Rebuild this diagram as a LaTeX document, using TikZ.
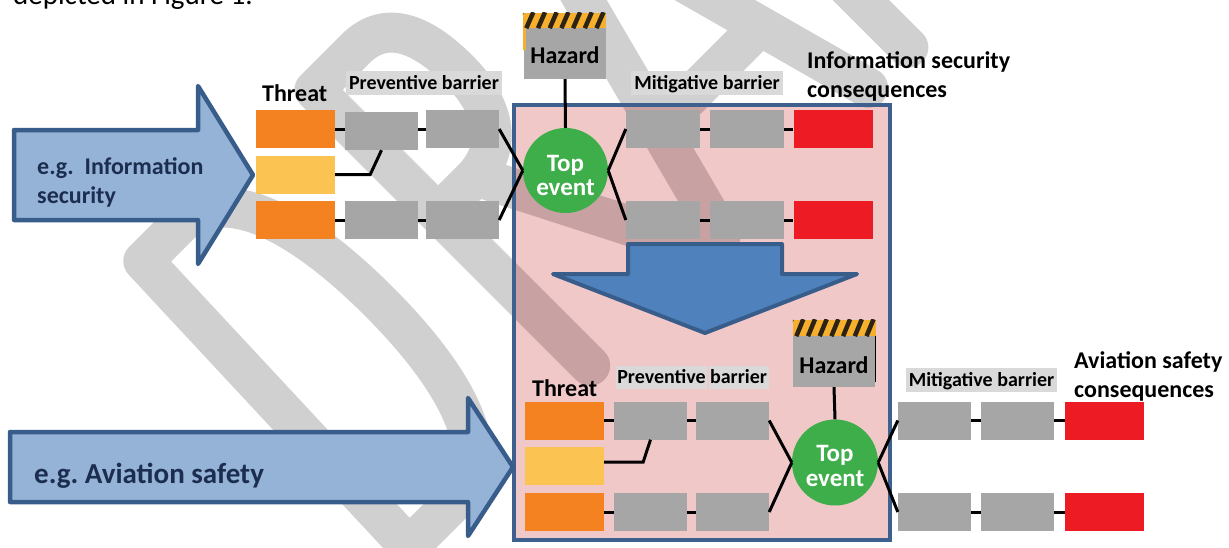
\documentclass[tikz,border=0pt]{standalone}
\usepackage{fontspec}
\setmainfont{Carlito}
\usetikzlibrary{calc}

\definecolor{arrowfill}{RGB}{149,179,215}
\definecolor{arrowline}{RGB}{56,93,138}
\definecolor{arrowtext}{RGB}{28,46,80}
\definecolor{downfill}{RGB}{79,129,189}
\definecolor{pinkfill}{RGB}{241,200,200}
\definecolor{boxline}{RGB}{61,96,142}
\definecolor{threatorange}{RGB}{245,130,32}
\definecolor{threatyellow}{RGB}{251,195,82}
\definecolor{barriergray}{RGB}{166,166,166}
\definecolor{conred}{RGB}{237,28,36}
\definecolor{eventgreen}{RGB}{61,174,73}
\definecolor{labelgray}{RGB}{217,217,217}
\definecolor{wmgray}{RGB}{208,208,208}
\definecolor{wmpink}{RGB}{200,162,162}
\definecolor{hazardyellow}{RGB}{247,176,45}
\definecolor{hazardstripe}{RGB}{45,35,20}

% strokes of the diagonal DRAFT watermark, in letter coordinates
\newcommand\draftletters[1]{%
  \begin{scope}[shift={(115,261)}, x={(0.7071pt,0.7071pt)}, y={(-0.7071pt,0.7071pt)}]
    \draw[#1, line width=40pt, line cap=round, line join=round]
      (6,-410) -- (20,-20) -- (70,-20) .. controls (135,-20) and (158,-110) .. (158,-215)
        .. controls (158,-320) and (135,-410) .. (70,-410) -- cycle
      (262,-410) -- (262,-20) -- (320,-20) .. controls (365,-20) and (378,-60) .. (378,-108)
        .. controls (378,-160) and (355,-195) .. (310,-195) -- (262,-195)
      (315,-195) -- (425,-410)
      (447,-410) -- (549,-20) -- (655,-410)
      (478,-290) -- (622,-290)
      (712,-410) -- (712,-20) -- (850,-20)
      (712,-215) -- (830,-215)
      (880,-20) -- (1040,-20)
      (960,-20) -- (960,-410);
  \end{scope}}

\begin{document}
\begin{tikzpicture}[x=1pt, y=-1pt,
  thr/.style={inner sep=0pt, minimum width=79, minimum height=38},
  bar/.style={inner sep=0pt, fill=barriergray, minimum width=73, minimum height=38},
  cons/.style={inner sep=0pt, fill=conred, minimum width=79, minimum height=38},
  event/.style={circle, inner sep=0pt, fill=eventgreen, minimum size=86},
  haz/.style={inner sep=0pt, fill=barriergray, minimum width=82, minimum height=51},
  stripes/.style={inner sep=0pt, fill=hazardyellow, minimum width=83, minimum height=15},
  conn/.style={draw=black, line width=3pt},
  lbl/.style={inner sep=0pt, anchor=base west, font=\bfseries\fontsize{24}{28}\selectfont},
  hztxt/.style={inner sep=0pt, anchor=base, font=\bfseries\fontsize{24}{28}\selectfont},
  evtxt/.style={inner sep=0pt, anchor=base, text=white, font=\bfseries\fontsize{25}{25}\selectfont},
  barlabel/.style={inner sep=0pt, fill=labelgray, minimum height=24, text height=13, text depth=1,
    font=\bfseries\fontsize{20}{24}\selectfont},
  atxt/.style={inner sep=0pt, anchor=base west, text=arrowtext, font=\bfseries\fontsize{24}{29}\selectfont},
  bigarrow/.style={draw=arrowline, fill=arrowfill, line width=4.5pt, line join=round}]

\useasboundingbox (0,0) rectangle (1229,547);
\clip (0,0) rectangle (1229,547);

% watermark behind everything
\draftletters{wmgray}

% running text above the figure
\node[inner sep=0pt, anchor=base west, font=\fontsize{29}{34}\selectfont] (runtext) at (13,4) {depicted in Figure 1.};

% shared region of both bow-ties
\fill[pinkfill] (514,105) rectangle (890,540);
\begin{scope}
  \clip (514,105) rectangle (890,540);
  \draftletters{wmpink}
\end{scope}
\draw[boxline, line width=4.5pt] (514,105) rectangle (890,540);

% domain arrows
\draw[bigarrow] (14,130) -- (198,130) -- (198,86) -- (253,175) -- (198,264) -- (198,220) -- (14,220) -- cycle;
\node[atxt] (ar1a) at (37,174) {e.g.\ \ Information};
\node[atxt] (ar1b) at (37,203) {security};
\draw[bigarrow] (10,432) -- (468,432) -- (468,398) -- (513,467) -- (468,536) -- (468,502) -- (10,502) -- cycle;
\node[atxt, font=\bfseries\fontsize{29}{34}\selectfont] (ar2) at (34,483) {e.g.\ Aviation safety};

% transfer arrow
\draw[draw=arrowline, fill=downfill, line width=4pt, line join=round]
  (628,244) -- (782,244) -- (782,274) -- (857,274) -- (705,333) -- (553,274) -- (628,274) -- cycle;

% ---------- information security bow-tie ----------
\node[lbl] (thr1) at (262,101) {Threat};
\node[barlabel, minimum width=156] (prev1) at (424,83) {Preventive barrier};
\node[barlabel, minimum width=152] (mit1) at (707,83) {Mitigative barrier};
\node[lbl] (isc1) at (807,68) {Information security};
\node[lbl] (isc2) at (807,97) {consequences};

\node[thr, fill=threatorange] (t1) at (295.5,129) {};
\node[thr, fill=threatyellow] (t2) at (295.5,174.5) {};
\node[thr, fill=threatorange] (t3) at (295.5,220) {};
\node[bar] (pA) at (381.5,131) {};
\node[bar] (pB) at (462.5,129) {};
\node[bar] (pC) at (381.5,220) {};
\node[bar] (pD) at (462.5,220) {};
\node[event, minimum size=85] (ev1) at (565.5,170.5) {};
\node[evtxt] (ev1a) at ($(ev1.center)+(0,0.5)$) {Top};
\node[evtxt] (ev1b) at ($(ev1.center)+(0,25)$) {event};

\node[haz] (hz1) at (565,53.5) {};
\node[hztxt] (hz1t) at ($(hz1.center)+(0,9.5)$) {Hazard};
\node[stripes] (hs1) at (564.5,20.5) {};
\begin{scope}
  \clip (hs1.south west) rectangle (hs1.north east);
  \foreach \i in {-1,...,7}
    \draw[hazardstripe, line width=4.5pt] ($(hs1.south west)+(3.5+11.7*\i,0)$) -- ++(7,-16);
\end{scope}
\fill[hazardyellow] (523,28) rectangle (525.5,50);

\node[bar, minimum width=74] (mA) at (663,129) {};
\node[bar, minimum width=74] (mB) at (747,129) {};
\node[cons] (cA) at (833,129) {};
\node[bar, minimum width=74] (mC) at (663,220) {};
\node[bar, minimum width=74] (mD) at (747,220) {};
\node[cons] (cB) at (833,220) {};

\draw[conn] (t1.east) -- (t1.east -| pA.west);
\draw[conn] (pA.east |- pB.west) -- (pB.west);
\draw[conn] (t2.east) -- ++(35,0) -- (pA.south);
\draw[conn] (t3.east) -- (pC.west);
\draw[conn] (pC.east) -- (pD.west);
\draw[conn] (pB.east) -- (ev1.west);
\draw[conn] (pD.east) -- (ev1.west);
\draw[conn] (hz1.south) -- (ev1.north);
\draw[conn] (ev1.east) -- (mA.west);
\draw[conn] (ev1.east) -- (mC.west);
\draw[conn] (mA.east) -- (mB.west);
\draw[conn] (mB.east) -- (cA.west);
\draw[conn] (mC.east) -- (mD.west);
\draw[conn] (mD.east) -- (cB.west);

% ---------- aviation safety bow-tie ----------
\node[lbl] (thr2) at (532,396) {Threat};
\node[barlabel, minimum width=91, minimum height=23] (prev2a) at (661.5,377.5) {Preventive};
\node[barlabel, minimum width=60, minimum height=23] (prev2b) at (738.5,377.5) {barrier};
\node[barlabel, minimum width=151] (mit2) at (981.5,380) {Mitigative barrier};
\node[lbl] (asc1) at (1074,368) {Aviation safety};
\node[lbl] (asc2) at (1074,397) {consequences};

\node[thr, fill=threatorange] (u1) at (564.5,420.5) {};
\node[thr, fill=threatyellow] (u2) at (564.5,466) {};
\node[thr, fill=threatorange] (u3) at (564.5,512) {};
\node[bar] (qA) at (650.5,420.5) {};
\node[bar] (qB) at (732.5,420.5) {};
\node[bar] (qC) at (650.5,512) {};
\node[bar] (qD) at (732.5,512) {};
\node[event] (ev2) at (835,462.5) {};
\node[evtxt] (ev2a) at ($(ev2.center)+(0,-1)$) {Top};
\node[evtxt] (ev2b) at ($(ev2.center)+(0,23.5)$) {event};

\node[haz] (hz2) at (834,361.5) {};
\node[hztxt] (hz2t) at ($(hz2.center)+(0,11.5)$) {Hazard};
\node[stripes, minimum height=16] (hs2) at (834.5,328) {};
\begin{scope}
  \clip (hs2.south west) rectangle (hs2.north east);
  \foreach \i in {-1,...,7}
    \draw[hazardstripe, line width=4.5pt] ($(hs2.south west)+(3.5+11.7*\i,0)$) -- ++(7,-17);
\end{scope}
\draw[black, line width=1.2pt] (hz2.north east) -- ++(0,46);

\node[bar] (nA) at (934.5,420.5) {};
\node[bar] (nB) at (1017.5,420.5) {};
\node[cons] (cC) at (1104.5,420.5) {};
\node[bar] (nC) at (934.5,512) {};
\node[bar] (nD) at (1017.5,512) {};
\node[cons] (cD) at (1104.5,512) {};

\draw[conn] (u1.east) -- (qA.west);
\draw[conn] (qA.east) -- (qB.west);
\draw[conn] ($(u2.east)+(0,-4)$) -- ++(39,0) -- (qA.south);
\draw[conn] (u3.east) -- (qC.west);
\draw[conn] (qC.east) -- (qD.west);
\draw[conn] (qB.east) -- (ev2.west);
\draw[conn] (qD.east) -- (ev2.west);
\draw[conn] (hz2.south) -- (ev2.north);
\draw[conn] (ev2.east) -- (nA.west);
\draw[conn] (ev2.east) -- (nC.west);
\draw[conn] (nA.east) -- (nB.west);
\draw[conn] (nB.east) -- (cC.west);
\draw[conn] (nC.east) -- (nD.west);
\draw[conn] (nD.east) -- (cD.west);
\end{tikzpicture}
\end{document}
